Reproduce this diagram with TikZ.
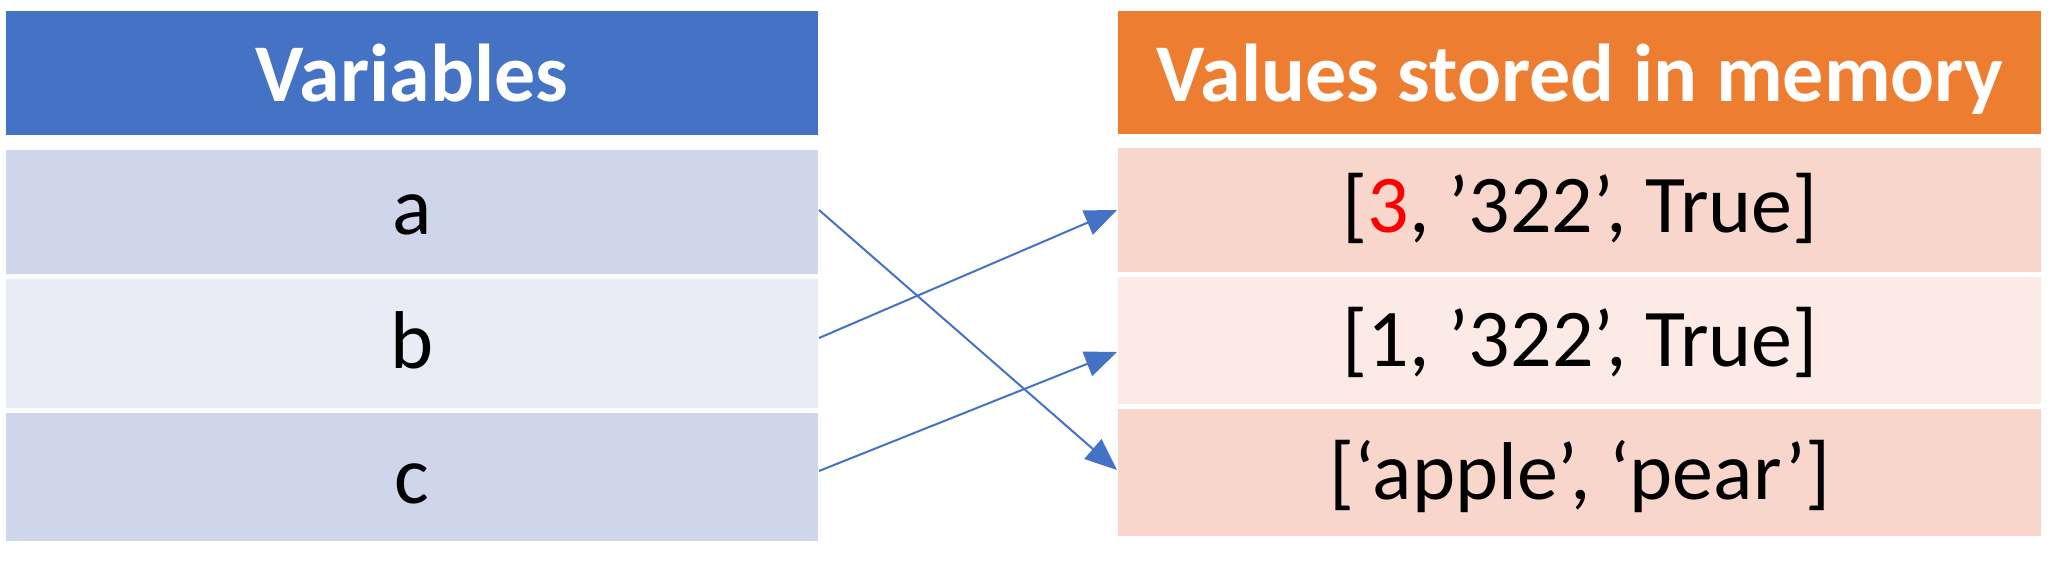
\documentclass[tikz,border=0pt]{standalone}
\usepackage{fontspec}
\setmainfont{Carlito}
\usetikzlibrary{arrows.meta}
\definecolor{hdrblue}{HTML}{4472C4}
\definecolor{bandblueA}{HTML}{CFD5EA}
\definecolor{bandblueB}{HTML}{E9EBF5}
\definecolor{hdrorange}{HTML}{ED7D31}
\definecolor{bandpinkA}{HTML}{F8D6CB}
\definecolor{bandpinkB}{HTML}{FBEAE5}
\definecolor{arrowblue}{HTML}{4472C4}
\tikzset{
  cell/.style={inner sep=0pt, outer sep=0pt},
  hdrtext/.style={anchor=base, inner sep=0pt, text=white, font=\fontsize{41}{49}\selectfont\bfseries},
  celltext/.style={anchor=base, inner sep=0pt, text=black, font=\fontsize{41}{49}\selectfont},
  link/.style={draw=arrowblue, line width=1pt, -{Triangle[length=16pt,width=13pt]}}
}
\begin{document}
\begin{tikzpicture}[x=0.5pt,y=-0.5pt]
\useasboundingbox[fill=white] (0,0) rectangle (2053,576);
% left column
\fill[hdrblue] (6,11) rectangle (818,135);
\fill[bandblueA] (6,150) rectangle (818,274);
\fill[bandblueB] (6,279) rectangle (818,408);
\fill[bandblueA] (6,413) rectangle (818,541);
% right column
\fill[hdrorange] (1118,11) rectangle (2041,134);
\fill[bandpinkA] (1118,148) rectangle (2041,272);
\fill[bandpinkB] (1118,277) rectangle (2041,404);
\fill[bandpinkA] (1118,409) rectangle (2041,536);
% texts
\node[hdrtext] (hv) at (412,102) {Variables};
\node[hdrtext] (hm) at (1580,102) {Values stored in memory};
\node[celltext] (ta) at (412,235) {a};
\node[celltext] (tb) at (412,369) {b};
\node[celltext] (tc) at (412,504) {c};
\node[celltext] (v1) at (1580,233) {[\textcolor{red}{3}, ’322’, True]};
\node[celltext] (v2) at (1580,367) {[1, ’322’, True]};
\node[celltext] (v3) at (1580,500) {[‘apple’, ‘pear’]};
% connector end points
\coordinate (sa) at (819,210);
\coordinate (sb) at (819,338);
\coordinate (sc) at (819,471);
\coordinate (e1) at (1117,210);
\coordinate (e2) at (1117,352);
\coordinate (e3) at (1117,470);
\draw[link] (sa) -- (e3);
\draw[link] (sb) -- (e1);
\draw[link] (sc) -- (e2);
\end{tikzpicture}
\end{document}
